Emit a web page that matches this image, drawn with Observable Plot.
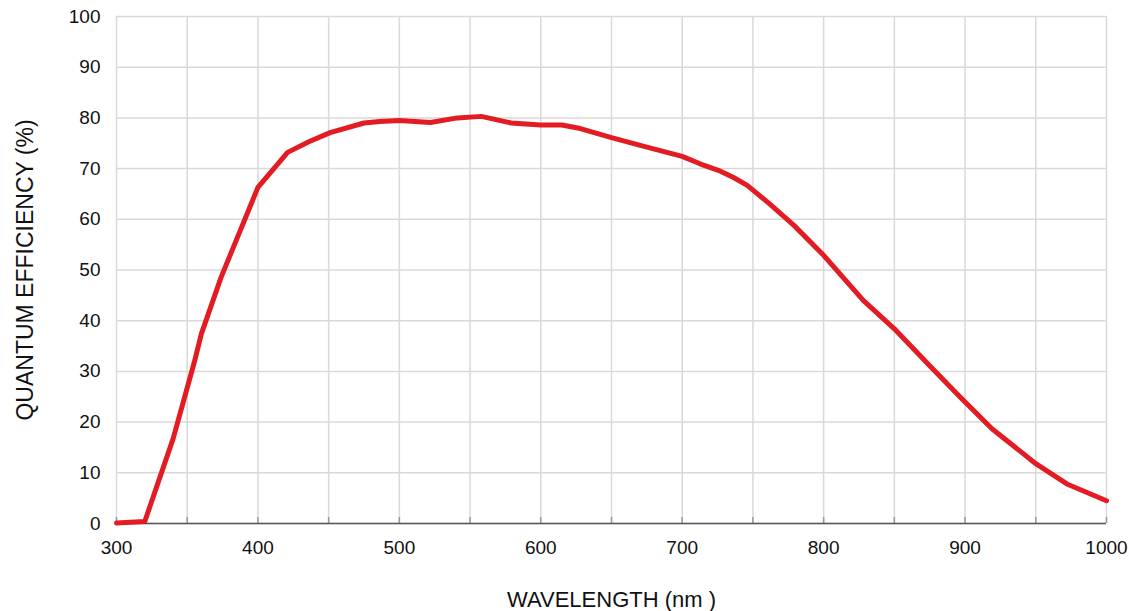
<!DOCTYPE html>
<html>
<head>
<meta charset="utf-8">
<script src="https://cdn.jsdelivr.net/npm/d3@7"></script>
<script src="https://cdn.jsdelivr.net/npm/@observablehq/plot@0.6"></script>
<style>
  html, body { margin: 0; padding: 0; background: #fff; }
  #chart { width: 1129px; height: 611px; }
</style>
</head>
<body>
<div id="chart"></div>
<script>
const wavelength = [300, 320, 340, 355, 360, 374, 400, 421, 436, 451, 475, 486, 500, 522, 541, 558, 579, 600, 615, 628, 650, 673, 700, 713, 727, 736, 746, 762, 779, 800, 828, 850, 876, 897, 919, 950, 972, 1000];
const qe = [0.1, 0.4, 16.7, 31.8, 37.4, 48.6, 66.3, 73.2, 75.3, 77.1, 79.0, 79.3, 79.5, 79.1, 80.0, 80.3, 79.0, 78.6, 78.6, 77.9, 76.1, 74.4, 72.4, 70.9, 69.5, 68.3, 66.7, 63.0, 58.8, 52.9, 44.0, 38.4, 30.8, 24.8, 18.7, 11.8, 7.8, 4.5];
const xGridTicks = d3.range(300, 1001, 50);
const xLabelTicks = d3.range(300, 1001, 100);
const yTicks = d3.range(0, 101, 10);

const data = wavelength.map((w, i) => ({w, q: qe[i]}));
const font = "'Liberation Sans', Arial, Helvetica, sans-serif";

const chart = Plot.plot({
  width: 1129,
  height: 611,
  marginLeft: 116,
  marginRight: 23,
  marginTop: 16,
  marginBottom: 88,
  style: {fontFamily: font, fontSize: "19px", color: "#111", background: "#fff"},
  x: {domain: [300, 1000]},
  y: {domain: [0, 100]},
  marks: [
    Plot.gridX(xGridTicks, {stroke: "#d9d9d9", strokeOpacity: 1, strokeWidth: 1.5}),
    Plot.gridY(yTicks, {stroke: "#d9d9d9", strokeOpacity: 1, strokeWidth: 1.5}),
    Plot.axisY(yTicks, {tickSize: 0, tickPadding: 16, fontSize: 19, label: null}),
    Plot.axisY({label: "QUANTUM EFFICIENCY (%)", ticks: [], tickSize: 0, fontSize: 23, labelAnchor: "center", labelOffset: 100, labelArrow: "none"}),
    Plot.axisX(xGridTicks, {tickSize: -6, stroke: "#999", strokeWidth: 1.5, text: null, label: null}),
    Plot.axisX(xLabelTicks, {tickSize: 0, tickPadding: 17, fontSize: 19, tickFormat: d => String(d), label: null}),
    Plot.axisX({label: "WAVELENGTH (nm )", ticks: [], tickSize: 0, fontSize: 22, labelAnchor: "center", labelOffset: 83, labelArrow: "none"}),
    Plot.ruleY([0], {stroke: "#555", strokeWidth: 1.5}),
    Plot.line(data, {x: "w", y: "q", stroke: "#e31b23", strokeWidth: 5, strokeLinejoin: "round", strokeLinecap: "round"})
  ]
});
document.getElementById("chart").appendChild(chart);
</script>
</body>
</html>
